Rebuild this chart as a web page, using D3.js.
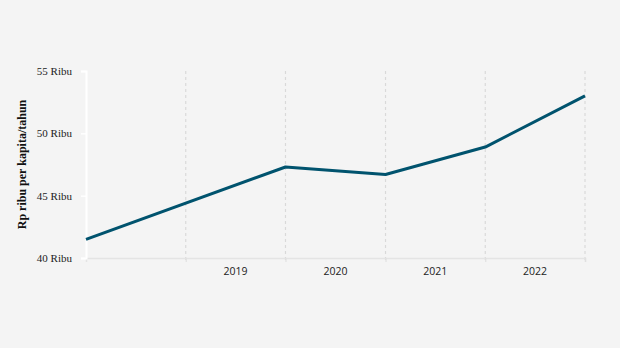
<!DOCTYPE html>
<html><head><meta charset="utf-8">
<script src="https://cdn.jsdelivr.net/npm/d3@7"></script>
<style>body{margin:0;background:#f4f4f4}svg{display:block}</style>
</head><body><svg id="c" width="620" height="348"></svg>
<script>
const pointDates = ["2018-01-01","2020-01-01","2021-01-01","2022-01-01","2023-01-01"];
const values = [41.5, 47.3, 46.7, 48.9, 53.0];
const gridDates = ["2019-01-01","2020-01-01","2021-01-01","2022-01-01","2023-01-01"];
const xLabels = ["2019","2020","2021","2022"];
const yTicks = [40, 45, 50, 55];
const yTickLabels = ["40 Ribu","45 Ribu","50 Ribu","55 Ribu"];
const yTitle = "Rp ribu per kapita/tahun";

const parse = d3.utcParse("%Y-%m-%d");
const svg = d3.select("#c");
const m = {l:86, r:585, t:71, b:258};
const x = d3.scaleUtc().domain([parse("2018-01-01"), parse("2023-01-01")]).range([m.l, m.r]);
const y = d3.scaleLinear().domain([40, 55]).range([m.b, m.t]);

// gridlines
svg.append("g").selectAll("line").data(gridDates).join("line")
  .attr("x1", d=>x(parse(d))).attr("x2", d=>x(parse(d)))
  .attr("y1", m.t).attr("y2", m.b+4)
  .attr("stroke", "#d9d9d9").attr("stroke-width", 1.2).attr("stroke-dasharray", "3,3");

// bottom axis
const xa = svg.append("g").attr("transform", `translate(0,${m.b})`)
  .call(d3.axisBottom(x).tickValues(gridDates.map(parse)).tickSize(4).tickFormat(""));
xa.select(".domain").attr("stroke", "#e4e4e4").attr("stroke-width", 1.5);
xa.selectAll(".tick line").attr("stroke", "#e0e0e0").attr("stroke-width", 1.2);
// year labels centered in each year
svg.append("g").selectAll("text").data(xLabels).join("text")
  .attr("x", d => (x(parse(d+"-01-01")) + x(parse((+d+1)+"-01-01")))/2)
  .attr("y", m.b + 17)
  .attr("text-anchor", "middle")
  .attr("font-family", "'Open Sans', 'Noto Sans', sans-serif")
  .attr("font-size", 10.5).attr("fill", "#222")
  .text(d=>d);

// left axis
const ya = svg.append("g").attr("transform", `translate(${m.l},0)`)
  .call(d3.axisLeft(y).tickValues(yTicks).tickSize(5).tickPadding(9)
    .tickFormat((d,i)=>yTickLabels[i]));
ya.select(".domain").attr("stroke", "#ffffff").attr("stroke-width", 2);
ya.selectAll(".tick line").attr("stroke", "#ffffff").attr("stroke-width", 1.5);
ya.selectAll(".tick text").attr("font-family", "'Liberation Serif', 'Times New Roman', serif")
  .attr("font-size", 11).attr("fill", "#222");

// title
svg.append("text")
  .attr("transform", `translate(26,${(m.t+m.b)/2}) rotate(-90)`)
  .attr("text-anchor", "middle")
  .attr("font-family", "'Liberation Serif', 'Times New Roman', serif")
  .attr("font-weight", "bold").attr("font-size", 12).attr("fill", "#111")
  .text(yTitle);

// line
const line = d3.line().x((d,i)=>x(parse(pointDates[i]))).y(d=>y(d));
svg.append("path").datum(values).attr("d", line)
  .attr("fill", "none").attr("stroke", "#00536e").attr("stroke-width", 3)
  .attr("stroke-linejoin", "round");
</script></body></html>
